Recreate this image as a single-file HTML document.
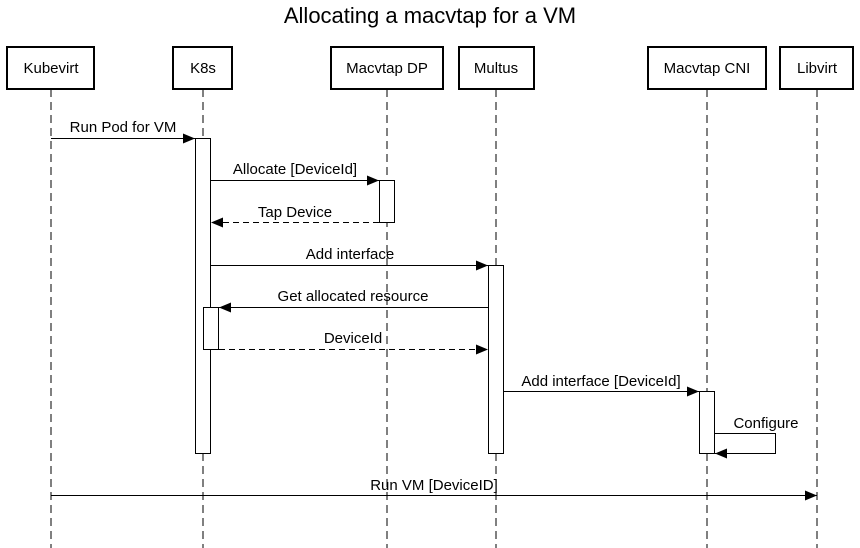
<!DOCTYPE html>
<html><head><meta charset="utf-8"><style>
html,body{margin:0;padding:0;background:#fff;width:860px;height:548px;overflow:hidden}
text{font-family:"Liberation Sans",sans-serif;fill:#000}
</style></head><body>
<svg width="860" height="548" viewBox="0 0 860 548" xmlns="http://www.w3.org/2000/svg">
<defs>
<marker id="a" markerWidth="12" markerHeight="10" refX="12" refY="5" orient="auto" markerUnits="userSpaceOnUse"><path d="M0,0 L12,5 L0,10 z" fill="#000"/></marker>
</defs>
<text x="430" y="23" font-size="22" text-anchor="middle">Allocating a macvtap for a VM</text>
<g stroke="#000" stroke-width="1" stroke-dasharray="8,5" fill="none">
<line x1="51" y1="89" x2="51" y2="548"/>
<line x1="203" y1="89" x2="203" y2="548"/>
<line x1="387" y1="89" x2="387" y2="548"/>
<line x1="496" y1="89" x2="496" y2="548"/>
<line x1="707" y1="89" x2="707" y2="548"/>
<line x1="817" y1="89" x2="817" y2="548"/>
</g>
<g stroke="#000" stroke-width="2" fill="#fff">
<rect x="7" y="47" width="87" height="42"/>
<rect x="173" y="47" width="59" height="42"/>
<rect x="331" y="47" width="112" height="42"/>
<rect x="459" y="47" width="75" height="42"/>
<rect x="648" y="47" width="118" height="42"/>
<rect x="780" y="47" width="73" height="42"/>
</g>
<g font-size="15" text-anchor="middle">
<text x="51" y="73">Kubevirt</text>
<text x="203" y="73">K8s</text>
<text x="387" y="73">Macvtap DP</text>
<text x="496" y="73">Multus</text>
<text x="707" y="73">Macvtap CNI</text>
<text x="817" y="73">Libvirt</text>
</g>
<g stroke="#000" stroke-width="1" fill="#fff">
<rect x="195.5" y="138.5" width="15" height="315"/>
<rect x="379.5" y="180.5" width="15" height="42"/>
<rect x="488.5" y="265.5" width="15" height="188"/>
<rect x="203.5" y="307.5" width="15" height="42"/>
<rect x="699.5" y="391.5" width="15" height="62"/>
</g>
<g stroke="#000" stroke-width="1" fill="none" marker-end="url(#a)">
<line x1="51" y1="138.5" x2="195" y2="138.5"/>
<line x1="211" y1="180.5" x2="379" y2="180.5"/>
<line x1="379" y1="222.5" x2="211" y2="222.5" stroke-dasharray="6,4"/>
<line x1="211" y1="265.5" x2="488" y2="265.5"/>
<line x1="488" y1="307.5" x2="219" y2="307.5"/>
<line x1="219" y1="349.5" x2="488" y2="349.5" stroke-dasharray="6,4"/>
<line x1="504" y1="391.5" x2="699" y2="391.5"/>
<polyline points="715,433.5 775.5,433.5 775.5,453.5 715,453.5"/>
<line x1="51" y1="495.5" x2="817" y2="495.5"/>
</g>
<g font-size="15" text-anchor="middle">
<text x="123" y="132">Run Pod for VM</text>
<text x="295" y="174">Allocate [DeviceId]</text>
<text x="295" y="217">Tap Device</text>
<text x="350" y="259">Add interface</text>
<text x="353" y="301">Get allocated resource</text>
<text x="353" y="343">DeviceId</text>
<text x="601" y="386">Add interface [DeviceId]</text>
<text x="766" y="428">Configure</text>
<text x="434" y="490">Run VM [DeviceID]</text>
</g>
</svg>
</body></html>
